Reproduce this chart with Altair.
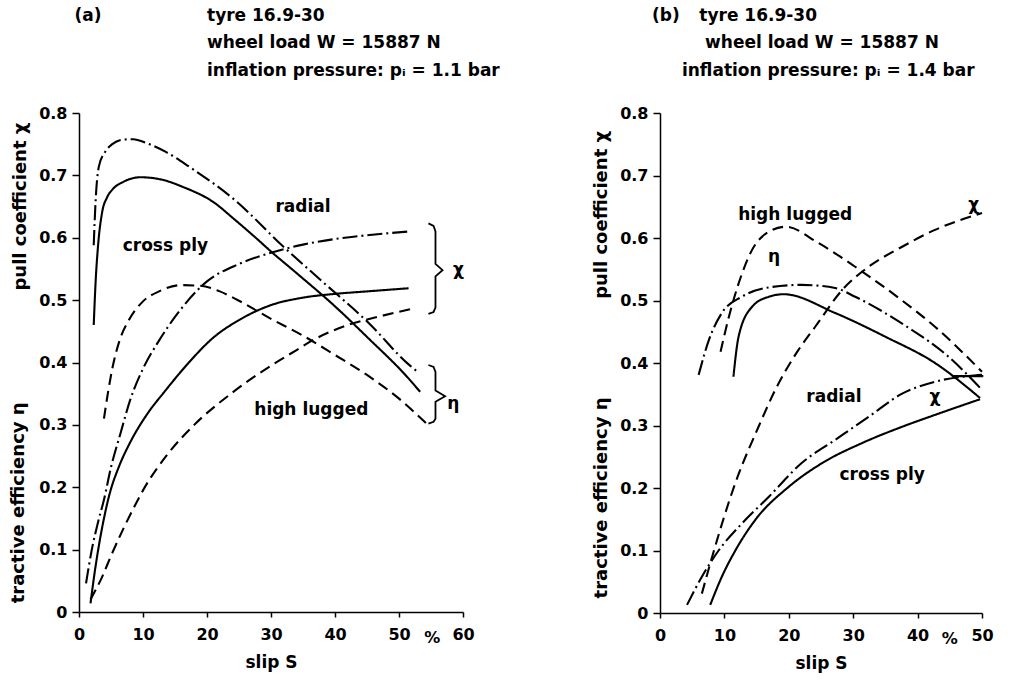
import altair as alt
import pandas as pd

FONT = "DejaVu Sans"
FS = 16

# ---------------- panel (a): p_i = 1.1 bar ----------------
a_cp_eta_x = [2.3, 2.6, 3.0, 3.6, 4.4, 5.2, 7.0, 9.6, 13.0, 16.1, 21.3, 24.0, 27.5, 30.0, 33.8, 40.0, 45.3, 51.0, 53.3]
a_cp_eta_y = [0.46, 0.53, 0.59, 0.64, 0.665, 0.677, 0.69, 0.697, 0.693, 0.682, 0.655, 0.632, 0.601, 0.578, 0.545, 0.49, 0.438, 0.38, 0.353]
a_rad_eta_x = [2.3, 2.6, 3.1, 4.1, 5.2, 6.7, 8.5, 10.5, 13.5, 17.2, 24.4, 31.7, 38.0, 45.3, 51.5, 52.8]
a_rad_eta_y = [0.588, 0.66, 0.714, 0.738, 0.75, 0.757, 0.758, 0.752, 0.738, 0.714, 0.66, 0.588, 0.53, 0.463, 0.397, 0.386]
a_hl_eta_x = [3.9, 4.5, 5.2, 6.5, 7.8, 10.0, 12.5, 16.0, 19.0, 22.0, 25.0, 30.0, 35.0, 40.0, 45.0, 50.0, 54.5]
a_hl_eta_y = [0.31, 0.35, 0.39, 0.44, 0.468, 0.498, 0.514, 0.524, 0.523, 0.514, 0.499, 0.47, 0.443, 0.412, 0.38, 0.342, 0.3]
a_rad_chi_x = [1.1, 2.0, 3.0, 3.9, 5.0, 6.5, 8.0, 10.0, 12.5, 15.0, 20.0, 25.0, 30.0, 35.0, 40.0, 45.0, 51.5]
a_rad_chi_y = [0.046, 0.1, 0.145, 0.18, 0.232, 0.287, 0.34, 0.39, 0.435, 0.473, 0.53, 0.558, 0.576, 0.589, 0.598, 0.604, 0.61]
a_cp_chi_x = [1.8, 2.4, 3.0, 3.8, 4.8, 6.2, 8.0, 10.5, 13.5, 17.0, 21.0, 25.0, 30.0, 35.0, 40.0, 45.0, 51.5]
a_cp_chi_y = [0.014, 0.06, 0.1, 0.145, 0.19, 0.232, 0.272, 0.315, 0.355, 0.398, 0.44, 0.468, 0.492, 0.504, 0.51, 0.514, 0.519]
a_hl_chi_x = [1.8, 3.6, 5.0, 7.0, 8.8, 10.0, 14.0, 18.0, 24.0, 30.0, 34.0, 36.4, 42.0, 47.0, 52.5]
a_hl_chi_y = [0.02, 0.056, 0.09, 0.135, 0.172, 0.195, 0.255, 0.3, 0.352, 0.395, 0.42, 0.435, 0.46, 0.474, 0.487]

# ---------------- panel (b): p_i = 1.4 bar ----------------
b_hl_eta_x = [9.4, 10.7, 12.2, 14.3, 16.9, 19.5, 24.6, 30.3, 37.6, 42.7, 50.0]
b_hl_eta_y = [0.418, 0.474, 0.527, 0.581, 0.61, 0.618, 0.592, 0.554, 0.5, 0.458, 0.386]
b_rad_eta_x = [6.0, 7.6, 9.6, 12.7, 16.9, 22.0, 27.2, 30.3, 37.6, 44.8, 50.0]
b_rad_eta_y = [0.381, 0.437, 0.48, 0.506, 0.521, 0.525, 0.52, 0.506, 0.463, 0.41, 0.357]
b_cp_eta_x = [11.4, 12.2, 14.3, 16.9, 19.2, 27.2, 35.0, 42.7, 49.7]
b_cp_eta_y = [0.378, 0.442, 0.49, 0.506, 0.51, 0.48, 0.442, 0.4, 0.344]
b_hl_chi_x = [6.5, 8.1, 11.7, 15.3, 17.9, 21.5, 24.1, 28.3, 32.4, 37.6, 42.7, 50.0]
b_hl_chi_y = [0.031, 0.09, 0.208, 0.298, 0.357, 0.421, 0.458, 0.517, 0.554, 0.586, 0.613, 0.64]
b_rad_chi_x = [4.2, 6.5, 9.1, 12.7, 16.9, 22.0, 27.2, 32.4, 37.6, 42.7, 50.0]
b_rad_chi_y = [0.013, 0.058, 0.1, 0.143, 0.186, 0.24, 0.277, 0.314, 0.351, 0.37, 0.381]
b_rad_chi_end_x = [45.3, 50.2]
b_rad_chi_end_y = [0.379, 0.379]
b_cp_chi_x = [7.8, 9.6, 11.7, 14.8, 20.0, 25.2, 31.4, 37.6, 42.7, 49.7]
b_cp_chi_y = [0.013, 0.058, 0.1, 0.149, 0.202, 0.24, 0.272, 0.298, 0.317, 0.342]

# ---------------- annotations ----------------
a_lab_text = ["radial", "cross ply", "high lugged", "χ", "η"]
a_lab_x = [35.0, 13.5, 36.3, 59.3, 58.5]
a_lab_y = [0.65, 0.586, 0.324, 0.548, 0.333]
b_lab_text = ["high lugged", "η", "χ", "radial", "χ", "cross ply"]
b_lab_x = [21.0, 17.7, 48.7, 27.0, 42.7, 34.5]
b_lab_y = [0.637, 0.57, 0.653, 0.346, 0.346, 0.221]

# curly brackets grouping the curve ends in panel (a)
brk_chi_x = [54.6, 55.4, 55.7, 55.7, 56.8, 55.7, 55.7, 55.4, 54.6]
brk_chi_y = [0.623, 0.619, 0.61, 0.558, 0.548, 0.538, 0.488, 0.481, 0.478]
brk_eta_x = [54.6, 55.4, 55.7, 55.7, 57.2, 55.7, 55.7, 55.4, 54.6]
brk_eta_y = [0.396, 0.393, 0.385, 0.355, 0.346, 0.337, 0.31, 0.305, 0.302]

a_head_text = ["tyre 16.9-30", "wheel load W = 15887 N", "inflation pressure: pᵢ = 1.1 bar"]
a_head_x = [20.0, 20.0, 20.0]
a_head_y = [0.948, 0.9035, 0.859]
b_head_text = ["tyre 16.9-30", "wheel load W = 15887 N", "inflation pressure: pᵢ = 1.4 bar"]
b_head_x = [6.1, 7.0, 3.4]
b_head_y = [0.948, 0.9035, 0.859]
a_tag = ("(a)", 1.4, 0.948)
b_tag = ("(b)", 0.9, 0.948)

ytitle_text = ["pull coefficient χ", "tractive efficiency η"]
a_ytitle_x = [-9.1, -9.3]
a_ytitle_y = [0.65, 0.175]
b_ytitle_x = [-9.0, -9.0]
b_ytitle_y = [0.637, 0.184]

a_pct = (55.2, -0.042)
b_pct = (45.0, -0.042)

Y_TICKS = [0, 0.1, 0.2, 0.3, 0.4, 0.5, 0.6, 0.7, 0.8]


def series_frame(items):
    rows = []
    for name, style, xs, ys in items:
        for i, (x, y) in enumerate(zip(xs, ys)):
            rows.append({"curve": name, "style": style, "slip": x, "val": y, "i": i})
    return pd.DataFrame(rows)


def panel(curves, brackets, labels, heads, tag, ytitles, pct, xmax, width, height):
    xs = alt.Scale(domain=[0, xmax], nice=False, zero=False)
    ys = alt.Scale(domain=[0, 0.8], nice=False, zero=False)
    xticks = list(range(0, xmax + 1, 10))
    x_axis = alt.Axis(values=xticks, title="slip S", grid=False, domainColor="black",
                      domainWidth=1.5, tickColor="black", tickWidth=1.5, tickSize=5,
                      labelFont=FONT, labelFontSize=FS, labelFontWeight="bold",
                      labelColor="black", labelPadding=9, titleFont=FONT,
                      titleFontSize=FS + 1, titleFontWeight="bold", titleColor="black",
                      titlePadding=12, labelFlush=False)
    y_axis = alt.Axis(values=Y_TICKS, title=None, grid=False, domainColor="black",
                      domainWidth=1.5, tickColor="black", tickWidth=1.5, tickSize=7,
                      labelFont=FONT, labelFontSize=FS, labelFontWeight="bold",
                      labelColor="black", labelPadding=5, labelFlush=False,
                      labelExpr="datum.value == 0 ? '0' : format(datum.value, '.1f')")

    def X():
        return alt.X("slip:Q", scale=xs, axis=x_axis, title="slip S")

    def Y():
        return alt.Y("val:Q", scale=ys, axis=y_axis, title=None)

    df = series_frame(curves)
    lines = alt.Chart(df).mark_line(color="black", strokeWidth=2.1, interpolate="monotone").encode(
        x=X(), y=Y(),
        detail="curve:N",
        order="i:Q",
        strokeDash=alt.StrokeDash("style:N", legend=None,
                                  scale=alt.Scale(domain=["solid", "dashed", "dashdot"],
                                                  range=[[1, 0], [11, 6], [15, 4, 2, 4]])),
    )
    layers = [lines]
    if brackets:
        bdf = series_frame(brackets)
        layers.append(alt.Chart(bdf).mark_line(color="black", strokeWidth=1.8, interpolate="linear").encode(
            x=X(), y=Y(), detail="curve:N", order="i:Q"))

    def tframe(t, x, y):
        return pd.DataFrame({"t": t, "slip": x, "val": y})

    layers.append(alt.Chart(tframe(*labels)).mark_text(
        font=FONT, fontSize=FS + 1, fontWeight="bold", color="black").encode(
        x=X(), y=Y(), text="t:N"))

    layers.append(alt.Chart(tframe(*heads)).mark_text(
        font=FONT, fontSize=FS + 1, fontWeight="bold", color="black",
        align="left", baseline="alphabetic").encode(x=X(), y=Y(), text="t:N"))

    layers.append(alt.Chart(tframe([tag[0]], [tag[1]], [tag[2]])).mark_text(
        font=FONT, fontSize=FS + 1, fontWeight="bold", color="black",
        align="center", baseline="alphabetic").encode(x=X(), y=Y(), text="t:N"))

    layers.append(alt.Chart(tframe(ytitle_text, ytitles[0], ytitles[1])).mark_text(
        font=FONT, fontSize=FS + 2, fontWeight="bold", color="black",
        angle=270, align="center", baseline="middle").encode(x=X(), y=Y(), text="t:N"))

    layers.append(alt.Chart(tframe(["%"], [pct[0]], [pct[1]])).mark_text(
        font=FONT, fontSize=FS, fontWeight="bold", color="black",
        align="center", baseline="middle").encode(x=X(), y=Y(), text="t:N"))

    return alt.layer(*layers).properties(width=width, height=height)


pa = panel(
    [("cp_eta", "solid", a_cp_eta_x, a_cp_eta_y),
     ("rad_eta", "dashdot", a_rad_eta_x, a_rad_eta_y),
     ("hl_eta", "dashed", a_hl_eta_x, a_hl_eta_y),
     ("rad_chi", "dashdot", a_rad_chi_x, a_rad_chi_y),
     ("cp_chi", "solid", a_cp_chi_x, a_cp_chi_y),
     ("hl_chi", "dashed", a_hl_chi_x, a_hl_chi_y)],
    [("brk_chi", "solid", brk_chi_x, brk_chi_y),
     ("brk_eta", "solid", brk_eta_x, brk_eta_y)],
    (a_lab_text, a_lab_x, a_lab_y),
    (a_head_text, a_head_x, a_head_y), a_tag,
    (a_ytitle_x, a_ytitle_y), a_pct, 60, 384, 499)

pb = panel(
    [("hl_eta", "dashed", b_hl_eta_x, b_hl_eta_y),
     ("rad_eta", "dashdot", b_rad_eta_x, b_rad_eta_y),
     ("cp_eta", "solid", b_cp_eta_x, b_cp_eta_y),
     ("hl_chi", "dashed", b_hl_chi_x, b_hl_chi_y),
     ("rad_chi", "dashdot", b_rad_chi_x, b_rad_chi_y),
     ("rad_chi_end", "solid", b_rad_chi_end_x, b_rad_chi_end_y),
     ("cp_chi", "solid", b_cp_chi_x, b_cp_chi_y)],
    None,
    (b_lab_text, b_lab_x, b_lab_y),
    (b_head_text, b_head_x, b_head_y), b_tag,
    (b_ytitle_x, b_ytitle_y), b_pct, 50, 322, 500)

chart = alt.hconcat(pa, pb, spacing=197, bounds="flush").configure_view(stroke=None).properties(
    padding={"left": 10, "top": 6, "right": 5, "bottom": 5}, background="white")

chart.save("out.html", embed_options={"renderer": "svg", "actions": False})
